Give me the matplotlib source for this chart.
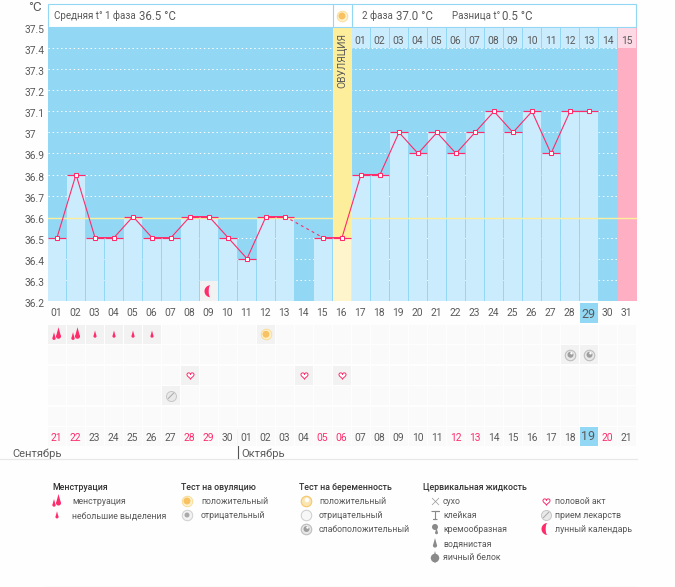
import numpy as np
import matplotlib
matplotlib.use("Agg")
import matplotlib.pyplot as plt
from matplotlib.patches import Rectangle
from matplotlib.path import Path
from matplotlib.transforms import Affine2D

plt.rcParams['font.family'] = ['Roboto', 'DejaVu Sans']

# ---------- data ----------
days = list(range(1, 32))
temps = [36.5, 36.8, 36.5, 36.5, 36.6, 36.5, 36.5, 36.6, 36.6, 36.5, 36.4, 36.6, 36.6, None,
         36.5, 36.5, 36.8, 36.8, 37.0, 36.9, 37.0, 36.9, 37.0, 37.1, 37.0, 37.1, 36.9, 37.1, 37.1,
         None, None]
y_ticks = [37.5, 37.4, 37.3, 37.2, 37.1, 37.0, 36.9, 36.8, 36.7, 36.6, 36.5, 36.4, 36.3, 36.2]
y_labels = ['37.5', '37.4', '37.3', '37.2', '37.1', '37', '36.9', '36.8', '36.7', '36.6', '36.5', '36.4', '36.3', '36.2']
cycle_labels = ['%02d' % d for d in days]
calendar_labels = ['21', '22', '23', '24', '25', '26', '27', '28', '29', '30', '01', '02', '03', '04', '05', '06',
                   '07', '08', '09', '10', '11', '12', '13', '14', '15', '16', '17', '18', '19', '20', '21']
weekend_positions = [1, 2, 8, 9, 15, 16, 22, 23, 30]
post_labels = ['01', '02', '03', '04', '05', '06', '07', '08', '09', '10', '11', '12', '13', '14', '15']
post_days = list(range(17, 32))
coverline = 36.6
ovulation_day = 16
period_end_day = 31
today_day = 29
moon_day = 9
heavy_days = [1, 2]
light_days = [3, 4, 5, 6]
ovul_pos_days = [12]
preg_weak_days = [28, 29]
sex_days = [8, 14, 16]
pill_days = [7]

BG = '#92d8f5'; BAR = '#cbecfd'; PINK = '#ff2b6b'; YEL = '#fdee9b'; PALEY = '#fff5cc'
ROSE = '#ffafc4'; TXT = '#5a5a5a'; CELL = '#fafafa'; CELL_ON = '#f2f2f2'

W, H = 675, 587
fig = plt.figure(figsize=(W / 100, H / 100), dpi=100, facecolor='#fefefe')
L, R = 47.5, 636.5


def make_axes(x0, x1, ytop, ybot, **kw):
    return fig.add_axes([x0 / W, 1 - ybot / H, (x1 - x0) / W, (ybot - ytop) / H], **kw)


# ---------- marker shapes ----------
def unit_drop():
    t = np.linspace(-0.7 * np.pi, 0.7 * np.pi, 30)
    xs = 0.42 * np.sin(t)
    ys = -0.5 - 0.42 * np.cos(t)
    return Path(np.r_[[[0, 1]], np.c_[xs, ys][::-1], [[0, 1]]], closed=True)


def unit_heart():
    t = np.linspace(0, 2 * np.pi, 60)
    return Path(np.c_[16 * np.sin(t) ** 3,
                      13 * np.cos(t) - 5 * np.cos(2 * t) - 2 * np.cos(3 * t) - np.cos(4 * t)], closed=True)


def unit_crescent():
    a = np.linspace(0.5 * np.pi, 1.5 * np.pi, 30)
    outer = np.c_[np.cos(a), np.sin(a)]
    inner = np.c_[0.3 * np.cos(a[::-1]), np.sin(a[::-1])]
    return Path(np.r_[outer, inner, outer[:1]], closed=True)


DROP, HEART, MOON = unit_drop(), unit_heart(), unit_crescent()


def mark(ax, x, y, marker, px, fc, ec='none', lw=0.0, dx=0, dy=0, z=8):
    ax.scatter([x], [y], marker=marker, s=(px * 0.72) ** 2, facecolor=fc, edgecolor=ec, linewidth=lw,
               clip_on=False, zorder=z, transform=ax.transData + Affine2D().translate(dx, -dy))


def icon(ax, kind, x, y):
    if kind == 'heavy':
        mark(ax, x, y, DROP, 12, PINK, dx=1.5, dy=-1)
        mark(ax, x, y, DROP, 8, PINK, dx=-3, dy=2)
    elif kind == 'light':
        mark(ax, x, y, DROP, 7.5, PINK)
    elif kind == 'ov_pos':
        mark(ax, x, y, 'o', 10.5, '#fff3cf', '#f9dc96', 0.7)
        mark(ax, x, y, 'o', 7, '#f8c263')
    elif kind == 'ov_neg':
        mark(ax, x, y, 'o', 10.5, '#f2f2f2', '#cfcfcf', 0.7)
        mark(ax, x, y, 'o', 5, '#a9a9a9')
    elif kind == 'pr_pos':
        mark(ax, x, y, 'o', 10.5, '#fbe5b0', '#f5c76d', 0.8)
        mark(ax, x, y, 'o', 4.5, '#ffffff', dx=1, dy=-1)
    elif kind == 'pr_neg':
        mark(ax, x, y, 'o', 10.5, '#f7f7f7', '#cccccc', 0.7)
    elif kind == 'pr_weak':
        mark(ax, x, y, 'o', 10.5, '#e8e8e8', '#bdbdbd', 0.8)
        mark(ax, x, y, 'o', 6, '#9e9e9e', dx=0.5)
        mark(ax, x, y, 'o', 2.5, '#ffffff', dx=1.5, dy=-1.5)
    elif kind == 'heart':
        mark(ax, x, y, HEART, 7.5, 'white', PINK, 0.7)
    elif kind == 'pill':
        mark(ax, x, y, 'o', 10, '#e9e9e9', '#c6c6c6', 0.7)
        mark(ax, x, y, Path([[-1, -1], [1, 1]]), 6, 'none', '#a8a8a8', 0.7)
    elif kind == 'moon':
        mark(ax, x, y, MOON, 12, PINK, dx=1.5)
    elif kind == 'dry':
        mark(ax, x, y, 'x', 7, '#999999', '#999999', 0.5)
    elif kind == 'sticky':
        mark(ax, x, y, Path([[-1, 1], [1, 1], [0, 1], [0, -1], [-0.6, -1], [0.6, -1]]), 8, 'none', '#888888', 0.8)
    elif kind == 'creamy':
        mark(ax, x, y, 'o', 6, '#8a8a8a', dy=-2)
        mark(ax, x, y, DROP, 7, '#8a8a8a', dx=1.5, dy=2)
    elif kind == 'watery':
        mark(ax, x, y, DROP, 10, '#8a8a8a')
    elif kind == 'egg':
        mark(ax, x, y, 'o', 8.5, '#8a8a8a', dy=1)
        mark(ax, x, y, DROP, 12, '#8a8a8a')


# ---------- main chart ----------
ax = make_axes(L, R, 27.3, 300.7)
ax.set_xlim(0.5, 31.5)
ax.set_ylim(36.2, 37.5)
ax.set_facecolor(BG)
for s in ax.spines.values():
    s.set_visible(False)
ax.hlines([v for v in y_ticks if 36.2 < v < 37.5 and v != coverline], 0.5, 30.5, colors='white', lw=0.72,
          linestyles=(0, (1.4, 2.8)), zorder=1)
ax.axvspan(period_end_day - 0.5, period_end_day + 0.5, color=ROSE, lw=0, zorder=1.5)
ax.axvspan(ovulation_day - 0.5, ovulation_day + 0.5, color=YEL, lw=0, zorder=1.5)

bar_days = [d for d, t in zip(days, temps) if t is not None]
bar_vals = [t for t in temps if t is not None]
bar_cols = [PALEY if d == ovulation_day else BAR for d in bar_days]
ax.bar(bar_days, np.array(bar_vals) - 36.2, bottom=36.2, width=18.2 / 19, color=bar_cols, lw=0, zorder=2)
ax.plot([0.5, 31.5], [coverline, coverline], color='#fdee9b', lw=1.0, zorder=3,
        transform=ax.transData + Affine2D().translate(0, -1))

ax.hlines(bar_vals, np.array(bar_days) - 0.46, np.array(bar_days) + 0.46, colors=PINK, lw=0.85, zorder=4)
x_before = [d for d in bar_days if d <= 13]
y_before = [temps[d - 1] for d in x_before]
x_after = [d for d in bar_days if d >= 15]
y_after = [temps[d - 1] for d in x_after]
ax.plot(x_before, y_before, color=PINK, lw=0.8, zorder=5)
ax.plot(x_after, y_after, color=PINK, lw=0.8, zorder=5)
ax.plot([13, 15], [temps[12], temps[14]], color=PINK, lw=0.8, ls=(0, (2.5, 3)), zorder=5)
ax.plot(bar_days, bar_vals, ls='none', marker='s', ms=3.5, mfc='white', mec=PINK, mew=0.75, zorder=6)

ax.add_patch(Rectangle((moon_day - 0.47, 36.2), 0.94, 0.093, fc=CELL_ON, ec='none', zorder=6))
icon(ax, 'moon', moon_day, 36.245)

ax.set_yticks(y_ticks, y_labels)
ax.tick_params(axis='y', length=0, pad=16.3, labelsize=7.4, labelcolor=TXT)
for lb in ax.get_yticklabels():
    lb.set_horizontalalignment('left')
    lb.set_transform(lb.get_transform() + Affine2D().translate(0, -2))
ax.set_xticks(days, cycle_labels)
ax.tick_params(axis='x', length=0, pad=5.3, labelsize=7.4, labelcolor=TXT)
for lb in ax.get_xticklabels():
    lb.set_transform(lb.get_transform() + Affine2D().translate(-0.7, 0))
    if lb.get_text() == '%02d' % today_day:
        lb.set_fontsize(9.0)
        lb.set_zorder(9)

# ---------- pixel overlay ----------
px = make_axes(0, W, 0, H)
px.set_xlim(0, W)
px.set_ylim(H, 0)
px.axis('off')
px.patch.set_alpha(0)


def cx(d):
    return L + (d - 0.5) * 19


def label(x, y, s, size=7.2, color=TXT, **kw):
    px.text(x, y, s, fontsize=size, color=color, va='baseline', ha=kw.pop('ha', 'left'), **kw)


ax_bg = fig.add_axes([0, 0, 1, 1], zorder=-1)
ax_bg.set_xlim(0, W); ax_bg.set_ylim(H, 0); ax_bg.axis('off')
ax_bg.add_patch(Rectangle((cx(today_day) - 9.2, 303), 18.2, 20, fc=BG, ec='none'))

# header
px.add_patch(Rectangle((L, 3.5), R - L - 0.5, 23.5, fc='white', ec=BG, lw=0.8))
px.vlines([332.5, 351.5], 3.5, 27, colors=BG, lw=0.8)
label(54.5, 19, 'Средняя t° 1 фаза', 7.0)
label(139, 19.5, '36.5 °C', 8.3)
label(362.5, 19, '2 фаза', 7.0)
label(396.5, 19.5, '37.0 °C', 8.3)
label(452.5, 19, 'Разница t°', 7.0)
label(501.5, 19.5, '0.5 °C', 8.3)
label(28, 11, '°C', 9.6)
icon(px, 'ov_pos', 342, 16)
px.text(342, 60.5, 'ОВУЛЯЦИЯ', rotation=90, fontsize=7.4, color=TXT, ha='center', va='center')

# post-ovulation day row
for d, s in zip(post_days, post_labels):
    fc = '#fdd9e6' if d == period_end_day else BAR
    px.add_patch(Rectangle((cx(d) - 9.2, 27.5), 18.4, 20.5, fc=fc, ec='none'))
    px.text(cx(d) - 0.5, 40, s, fontsize=7.4, color=TXT, ha='center', va='center_baseline')

# ---------- symbol grid ----------
g = make_axes(L, R, 324, 447)
g.set_xlim(0.5, 31.5)
g.set_ylim(6, 0)
g.axis('off')
g.patch.set_alpha(0)
active = {(0, d) for d in heavy_days + light_days + ovul_pos_days}
active |= {(1, d) for d in preg_weak_days} | {(2, d) for d in sex_days} | {(3, d) for d in pill_days}
for r in range(6):
    for d in days:
        fc = CELL_ON if (r, d) in active else CELL
        if r == 5 and d == today_day:
            fc = BG
        g.add_patch(Rectangle((d - 0.47, r + 0.03), 0.94, 0.94, fc=fc, ec='none'))
for d in heavy_days:
    icon(g, 'heavy', d, 0.5)
for d in light_days:
    icon(g, 'light', d, 0.5)
for d in ovul_pos_days:
    icon(g, 'ov_pos', d, 0.5)
for d in preg_weak_days:
    icon(g, 'pr_weak', d, 1.5)
for d in sex_days:
    icon(g, 'heart', d, 2.5)
for d in pill_days:
    icon(g, 'pill', d, 3.5)
for d, s in zip(days, calendar_labels):
    col = PINK if d in weekend_positions else TXT
    big = d == today_day
    g.text(d - 0.03, 5.5 - (0.1 if big else 0), s, fontsize=9.0 if big else 7.4, color=col, ha='center',
           va='center_baseline')

# month captions
px.plot([0, R], [458.5, 458.5], color='#e8e8e8', lw=0.9)
px.plot([237.5, 237.5], [429, 458], color='#555555', lw=0.8)
label(12, 457, 'Сентябрь', 8.0)
label(241.5, 457, 'Октябрь', 8.0)
px.plot([45, R], [586.5, 586.5], color='#e8e8e8', lw=0.9)

# ---------- legend ----------
HEAD = '#333333'
groups = [
    (52, 'Менструация'), (181, 'Тест на овуляцию'), (299, 'Тест на беременность'), (423, 'Цервикальная жидкость'),
]
for x, t in groups:
    label(x, 490.5, t, 6.3, HEAD, fontweight='medium')
items = [
    (57, 72, 501, 'heavy', 'менструация'), (57, 72, 515, 'light', 'небольшие выделения'),
    (187, 201, 501, 'ov_pos', 'положительный'), (187, 201, 515, 'ov_neg', 'отрицательный'),
    (306, 319, 501, 'pr_pos', 'положительный'), (306, 319, 515, 'pr_neg', 'отрицательный'),
    (306, 319, 529, 'pr_weak', 'слабоположительный'),
    (435, 443, 501, 'dry', 'сухо'), (435, 443, 515, 'sticky', 'клейкая'), (435, 443, 529, 'creamy', 'кремообразная'),
    (435, 443, 543, 'watery', 'водянистая'), (435, 443, 557, 'egg', 'яичный белок'),
    (546, 555, 501, 'heart', 'половой акт'), (546, 555, 515, 'pill', 'прием лекарств'),
    (546, 555, 529, 'moon', 'лунный календарь'),
]
for ix, tx, y, k, t in items:
    icon(px, k, ix, y)
    label(tx, y + 3.5, t, 6.35)

fig.savefig('out.png', dpi=100, facecolor=fig.get_facecolor())
